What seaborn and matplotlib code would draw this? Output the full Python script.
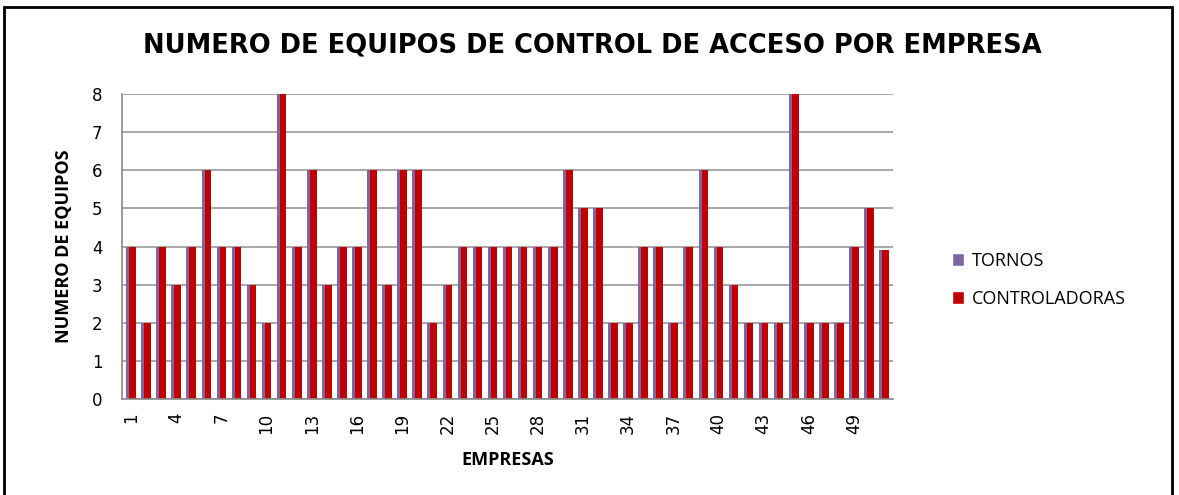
import numpy as np
import pandas as pd
import seaborn as sns
import matplotlib.pyplot as plt
from matplotlib.patches import Rectangle

# Data
empresas = list(range(1, 52))
tornos = [4, 2, 4, 3, 4, 6, 4, 4, 3, 2,
          8, 4, 6, 3, 4, 4, 6, 3, 6, 6,
          2, 3, 4, 4, 4, 4, 4, 4, 4, 6,
          5, 5, 2, 2, 4, 4, 2, 4, 6, 4,
          3, 2, 2, 2, 8, 2, 2, 2, 4, 5, 3.9]
controladoras = list(tornos)
series = ['TORNOS', 'CONTROLADORAS']
colors = ['#8064A2', '#C00000']

df = pd.DataFrame({
    'Empresa': empresas * 2,
    'Equipos': tornos + controladoras,
    'Serie': [series[0]] * len(empresas) + [series[1]] * len(empresas),
})

sns.set_style('white')
plt.rcParams['font.family'] = ['Open Sans', 'DejaVu Sans']
plt.rcParams['text.color'] = 'black'
plt.rcParams['axes.labelcolor'] = 'black'
plt.rcParams['xtick.labelcolor'] = 'black'
plt.rcParams['ytick.labelcolor'] = 'black'

fig = plt.figure(figsize=(11.79, 4.95), dpi=100)
ax = fig.add_axes([0.1035, 0.194, 0.654, 0.616])

sns.barplot(data=df, x='Empresa', y='Equipos', hue='Serie', palette=colors,
            width=0.64, saturation=1, ax=ax, legend=True)

# reshape: narrow purple strip on the left, wider red bar on the right
n = len(empresas)
for i, p in enumerate(ax.patches[:2 * n]):
    left = p.get_x() if i < n else p.get_x() - p.get_width()
    if i < n:
        p.set_x(left)
        p.set_width(0.2)
    else:
        p.set_x(left + 0.2)
        p.set_width(0.44)
    p.set_edgecolor('none')

ax.set_ylim(0, 8)
ax.set_xlim(-0.6, n - 0.4)
ax.set_yticks(range(0, 9))
ax.yaxis.grid(True, color='#9a9a9a', linewidth=1.2)
ax.set_axisbelow(True)
ax.set_xticks(range(0, n, 3))
ax.set_xticklabels([str(empresas[i]) for i in range(0, n, 3)], rotation=90)
ax.tick_params(axis='both', labelsize=12, color='#8a8a8a', direction='out')
ax.tick_params(axis='x', length=0, pad=10)
ax.tick_params(axis='y', length=6, width=1.2, pad=8)

for side in ['top', 'right']:
    ax.spines[side].set_visible(False)
for side in ['left', 'bottom']:
    ax.spines[side].set_color('#8a8a8a')
    ax.spines[side].set_linewidth(1.2)

ax.set_xlabel('EMPRESAS', fontsize=13, fontweight='bold', labelpad=12)
ax.set_ylabel('NUMERO DE EQUIPOS', fontsize=13, fontweight='bold', labelpad=14)

fig.text(0.502, 0.908, 'NUMERO DE EQUIPOS DE CONTROL DE ACCESO POR EMPRESA',
         ha='center', va='center', fontsize=18.5, fontweight='bold',
         family='DejaVu Sans', color='black')

ax.legend(loc='center left', bbox_to_anchor=(1.055, 0.39), frameon=False,
          fontsize=13, handlelength=0.7, handleheight=0.7, labelspacing=1.1,
          handletextpad=0.4)

for t in ax.get_xticklabels() + ax.get_yticklabels():
    t.set_fontfamily('DejaVu Sans')

# outer border
fig.patches.append(Rectangle((0.003, -0.01), 0.991, 0.996, transform=fig.transFigure,
                             fill=False, edgecolor='black', linewidth=2))

fig.savefig('out.png', dpi=100)
